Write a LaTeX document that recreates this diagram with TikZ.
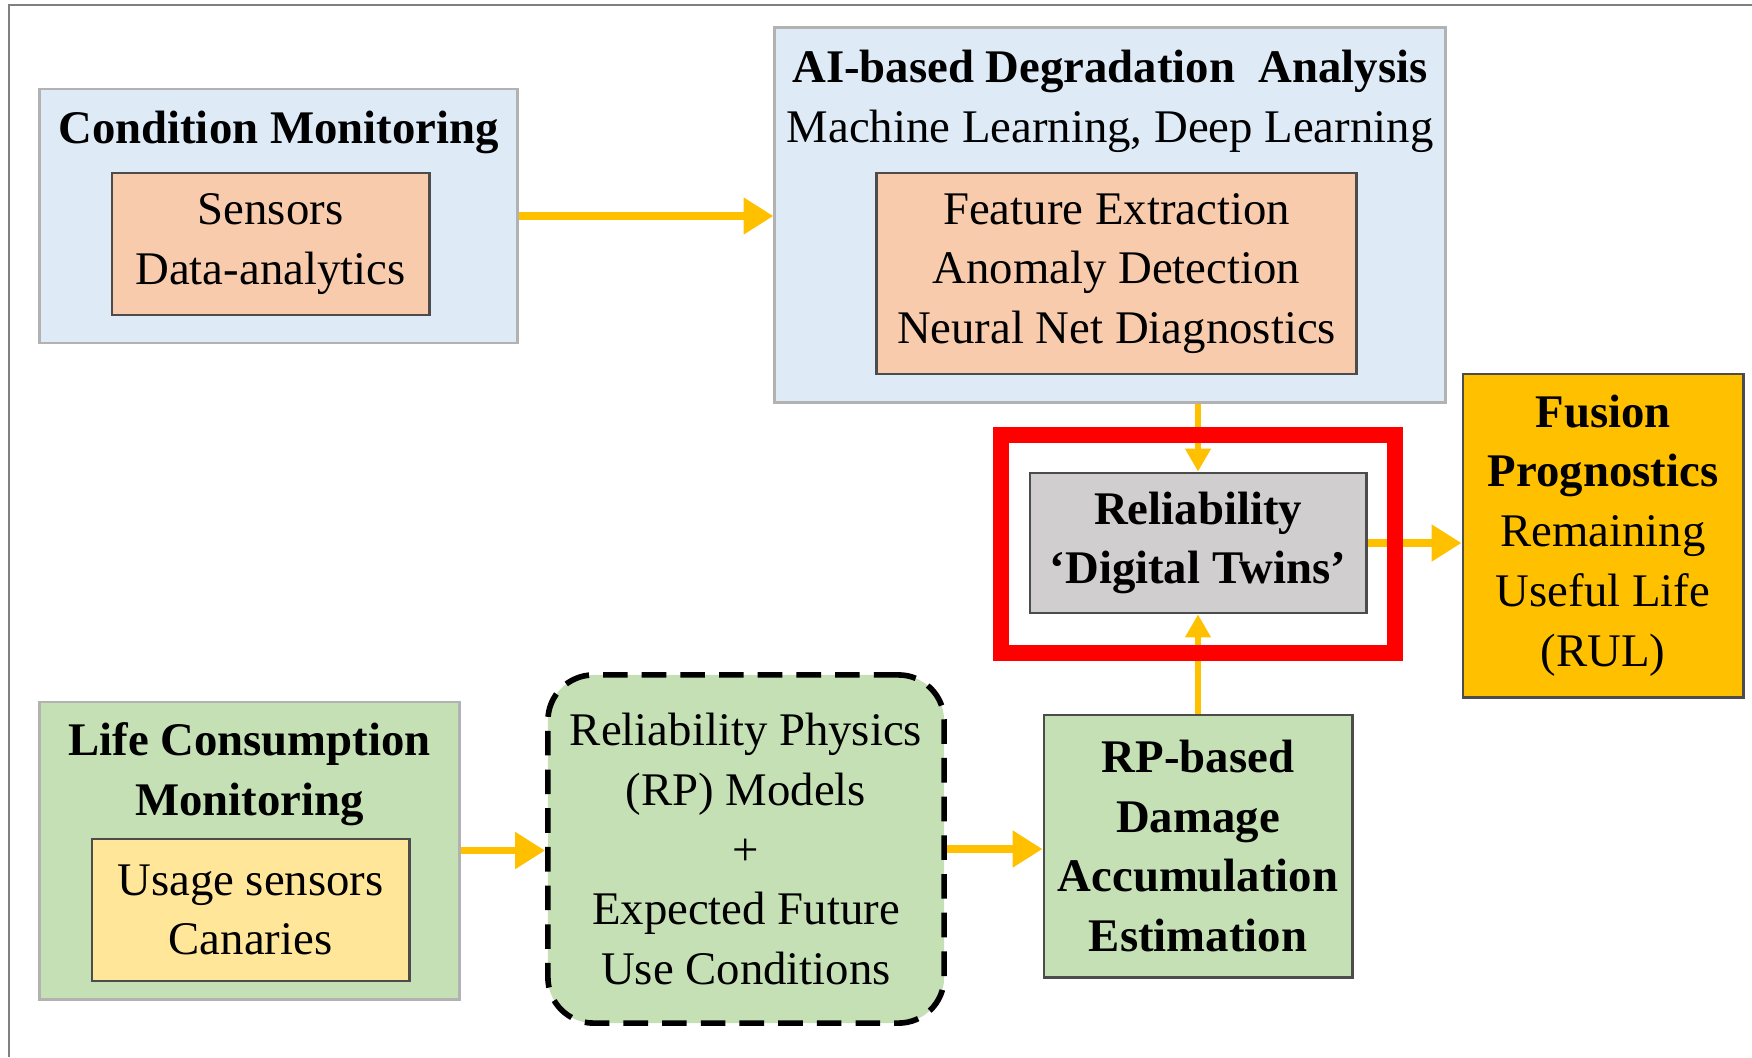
\documentclass[tikz,border=0pt]{standalone}
\usepackage{fontspec}
\setmainfont{Liberation Serif}
\usetikzlibrary{arrows.meta}
\definecolor{cmblue}{HTML}{DEEBF7}
\definecolor{peach}{HTML}{F8CBAD}
\definecolor{twingray}{HTML}{D0CECE}
\definecolor{fusionorange}{HTML}{FFC000}
\definecolor{rpgreen}{HTML}{C5E0B4}
\definecolor{usageyellow}{HTML}{FFE699}
\definecolor{arrowgold}{HTML}{FFC000}
\tikzset{>/.tip={Triangle[width=10pt,length=8.5pt]},
  outerbox/.style={draw=gray!60, line width=0.8pt, inner sep=0pt},
  innerbox/.style={draw=black!70, line width=0.8pt, inner sep=0pt, align=center},
  textlabel/.style={align=center, inner sep=0pt},
  flow/.style={->, draw=arrowgold, line width=2.2pt},
  thinflow/.style={-{Triangle[width=7pt,length=6.5pt]}, draw=arrowgold, line width=1.5pt}}

\begin{document}
\begin{tikzpicture}[x=0.01cm, y=-0.01cm, every node/.style={font=\fontsize{13.3}{17}\selectfont}]
\useasboundingbox (0,0) rectangle (1752,1057);
\draw[gray, line width=0.8pt] (9,1057) -- (9,5) -- (1752,5);

\node[outerbox, fill=cmblue, minimum width=4.77cm, minimum height=2.54cm] (cm) at (278.5,216) {};
\node[textlabel] (cmtitle) at (278.5,132) {\textbf{Condition Monitoring}};
\node[innerbox, fill=peach, minimum width=3.17cm, minimum height=1.42cm] (sensors) at (270.5,244) {Sensors\\Data-analytics};

\node[outerbox, fill=cmblue, minimum width=6.70cm, minimum height=3.74cm] (ai) at (1110,215) {};
\node[textlabel] (aititle) at (1110,101) {\textbf{AI-based Degradation\ \ Analysis}\\Machine Learning, Deep Learning};
\node[innerbox, fill=peach, minimum width=4.79cm, minimum height=2.01cm] (feat) at (1116.5,273.5) {Feature Extraction\\Anomaly Detection\\Neural Net Diagnostics};

\node[innerbox, fill=twingray, minimum width=3.36cm, minimum height=1.40cm] (twin) at (1198,543) {\textbf{Reliability}\\\textbf{‘Digital Twins’}};
\node[innerbox, fill=fusionorange, minimum width=2.80cm, minimum height=3.23cm] (fusion) at (1603,535.5) {\textbf{Fusion}\\\textbf{Prognostics}\\Remaining\\Useful Life\\(RUL)};
\node[innerbox, fill=rpgreen, minimum width=3.08cm, minimum height=2.62cm] (rp) at (1198,846) {\textbf{RP-based}\\\textbf{Damage}\\\textbf{Accumulation}\\\textbf{Estimation}};

\node[outerbox, fill=rpgreen, minimum width=4.19cm, minimum height=2.97cm] (lcm) at (249.5,850.5) {};
\node[textlabel] (lcmtitle) at (249.5,774) {\textbf{Life Consumption}\\\textbf{Monitoring}};
\node[innerbox, fill=usageyellow, minimum width=3.17cm, minimum height=1.42cm] (usage) at (250.5,910) {Usage sensors\\Canaries};

\node[draw, dash pattern=on 7pt off 4pt, line width=1.6pt, fill=rpgreen, rounded corners=13pt, align=center, inner sep=0pt, minimum width=3.96cm, minimum height=3.48cm] (phys) at (746,849) {Reliability Physics\\(RP) Models\\+\\Expected Future\\Use Conditions};

\draw[flow] (cm.east) -- (cm.east -| ai.west);
\draw[flow] (lcm.east) -- (lcm.east -| phys.west);
\draw[flow] (phys.east) -- (phys.east -| rp.west);
\draw[flow] (twin.east) -- (twin.east -| fusion.west);
\draw[thinflow] (ai.south -| twin.north) -- (twin.north);
\draw[thinflow] (rp.north) -- (twin.south);

\node[draw=red, line width=4.55pt, minimum width=3.94cm, minimum height=2.18cm] (twinframe) at (1198,544) {};
\end{tikzpicture}
\end{document}
